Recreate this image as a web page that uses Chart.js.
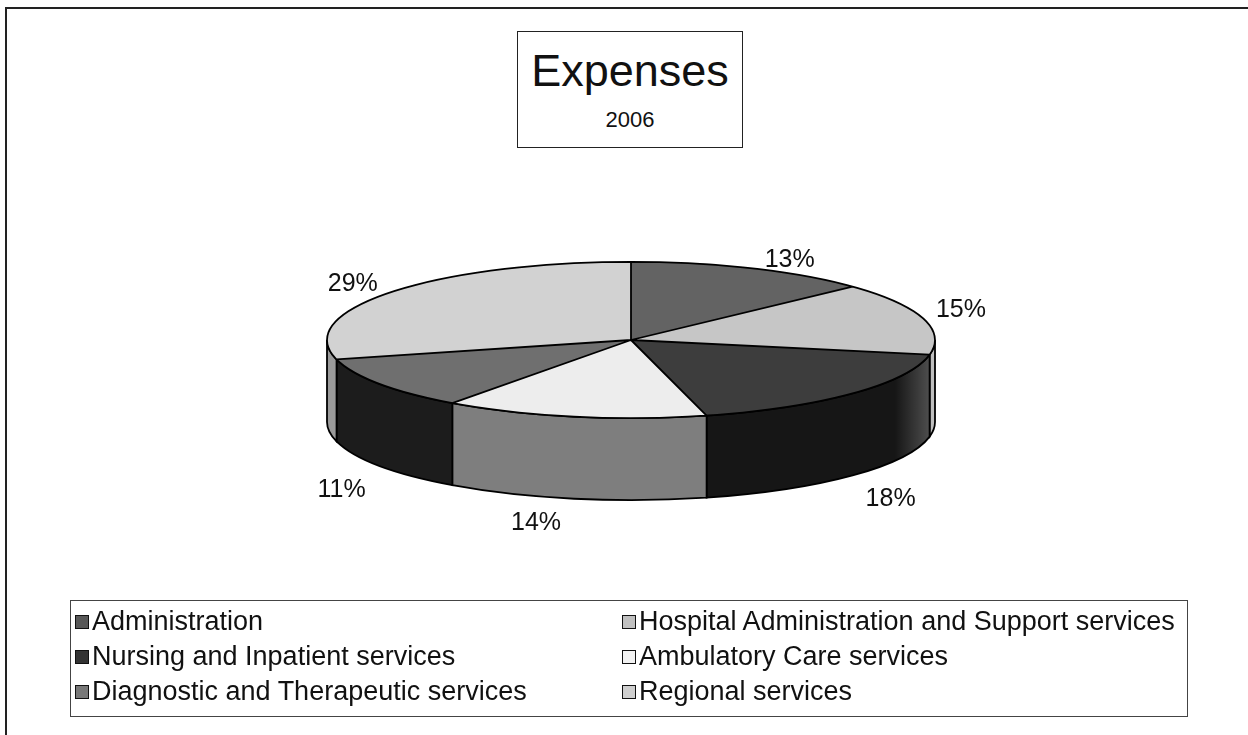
<!DOCTYPE html>
<html>
<head>
<meta charset="utf-8">
<title>Expenses 2006</title>
<script src="https://cdn.jsdelivr.net/npm/chart.js@4.4.1/dist/chart.umd.min.js"></script>
<style>
    html, body { margin: 0; padding: 0; background: #fff; }
    body {
        width: 1248px; height: 735px; position: relative; overflow: hidden;
        font-family: "Liberation Sans", Arial, sans-serif; color: #111;
    }
    #marco {
        position: absolute; left: 5px; top: 7px; width: 1300px; height: 800px;
        border-left: 2px solid #222; border-top: 2px solid #222;
    }
    #grafico { position: absolute; left: 0; top: 0; }
    #titulo {
        position: absolute; left: 517px; top: 31px; width: 224px; height: 115px;
        border: 1.5px solid #222; background: #fff; text-align: center;
    }
    #titulo .principal {
        position: absolute; left: 0; right: 0; top: 16px;
        font-size: 45px; line-height: 45px;
    }
    #titulo .anio {
        position: absolute; left: 0; right: 0; top: 77px;
        font-size: 22px; line-height: 22px;
    }
    #leyenda {
        position: absolute; left: 70px; top: 600px; width: 1112px; height: 112px;
        border: 1.5px solid #444; padding: 3px 0 0 4px;
        display: grid; grid-template-columns: 547px auto; grid-auto-rows: 35px;
    }
    .item { display: flex; align-items: center; font-size: 27px; white-space: nowrap; }
    .cuadro {
        width: 14px; height: 14px; border: 1px solid #111; margin-right: 3px;
        box-sizing: border-box; flex: none;
    }
</style>
</head>
<body>
<div id="marco"></div>
<canvas id="grafico" width="1248" height="735"></canvas>
<div id="titulo">
    <div class="principal">Expenses</div>
    <div class="anio">2006</div>
</div>
<div id="leyenda"></div>

<script>
// -------------------------------
// Datos
// -------------------------------
const categorias = [
    "Administration",
    "Hospital Administration and Support services",
    "Nursing and Inpatient services",
    "Ambulatory Care services",
    "Diagnostic and Therapeutic services",
    "Regional services"
];
const porcentajes = [13, 15, 18, 14, 11, 29];

// Colores: cara superior, lateral y cuadro de la leyenda
const coloresCara    = ["#636363", "#c6c6c6", "#3d3d3d", "#ededed", "#6f6f6f", "#d2d2d2"];
const coloresLateral = ["#3a3a3a", "#a8a8a8", "#161616", "#7e7e7e", "#1c1c1c", "#9a9a9a"];
const coloresLeyenda = ["#585858", "#c0c0c0", "#333333", "#f2f2f2", "#787878", "#cfcfcf"];

const INCLINACION = 0.257;  // aplastamiento vertical de la tarta
const GROSOR = 82;          // altura del canto

// -------------------------------
// Plugin tarta 3D
// -------------------------------
const tarta3D = {
    id: "tarta3D",
    beforeDatasetsDraw(chart) {
        const { ctx } = chart;
        const arcos = chart.getDatasetMeta(0).data;

        // Cantos: solo la mitad delantera (0..PI en ángulos de canvas)
        ctx.save();
        arcos.forEach((arco, i) => {
            const a1 = Math.max(arco.startAngle, 0);
            const a2 = Math.min(arco.endAngle, Math.PI);
            if (a2 <= a1) return;
            const r = arco.outerRadius;
            const ry = r * INCLINACION;
            ctx.beginPath();
            ctx.ellipse(arco.x, arco.y, r, ry, 0, a1, a2);
            ctx.ellipse(arco.x, arco.y + GROSOR, r, ry, 0, a2, a1, true);
            ctx.closePath();
            ctx.fillStyle = coloresLateral[i];
            ctx.fill();

            // brillo suave hacia el borde derecho
            const brillo = ctx.createLinearGradient(arco.x + r - 40, 0, arco.x + r, 0);
            brillo.addColorStop(0, "rgba(255,255,255,0)");
            brillo.addColorStop(1, "rgba(255,255,255,0.28)");
            ctx.fillStyle = brillo;
            ctx.fill();

            ctx.lineWidth = 1.8;
            ctx.strokeStyle = "#000";
            ctx.stroke();
        });
        ctx.restore();

        // La cara superior la dibuja Chart.js, aplastada en vertical
        const y = arcos[0].y;
        ctx.save();
        ctx.translate(0, y);
        ctx.scale(1, INCLINACION);
        ctx.translate(0, -y);
    },
    afterDatasetsDraw(chart) {
        const { ctx } = chart;
        ctx.restore();

        const arcos = chart.getDatasetMeta(0).data;
        const { x, y, outerRadius: r } = arcos[0];
        const ry = r * INCLINACION;

        // Bordes de la cara superior
        ctx.save();
        ctx.lineWidth = 1.8;
        ctx.strokeStyle = "#000";
        ctx.beginPath();
        ctx.ellipse(x, y, r, ry, 0, 0, Math.PI * 2);
        arcos.forEach(arco => {
            ctx.moveTo(x, y);
            ctx.lineTo(x + r * Math.cos(arco.startAngle), y + ry * Math.sin(arco.startAngle));
        });
        ctx.stroke();

        // Etiquetas de porcentaje
        ctx.fillStyle = "#111";
        ctx.font = "25px 'Liberation Sans', Arial, sans-serif";
        ctx.textAlign = "center";
        ctx.textBaseline = "middle";
        arcos.forEach((arco, i) => {
            const medio = (arco.startAngle + arco.endAngle) / 2;
            const c = Math.cos(medio);
            const s = Math.sin(medio);
            const lx = x + r * c + 38 * Math.sign(c);
            const ly = y + ry * s + (s < 0 ? -8 : GROSOR + 24);
            ctx.fillText(porcentajes[i] + "%", lx, ly);
        });
        ctx.restore();
    }
};

// -------------------------------
// Gráfico
// -------------------------------
const grafico = new Chart(document.getElementById("grafico"), {
    type: "pie",
    data: {
        labels: categorias,
        datasets: [{
            data: porcentajes,
            backgroundColor: coloresCara,
            borderWidth: 0,
            radius: 304
        }]
    },
    options: {
        responsive: false,
        animation: false,
        events: [],
        layout: { padding: { left: 14, right: 0, top: 10, bottom: 65 } },
        plugins: {
            legend: { display: false },
            tooltip: { enabled: false }
        }
    },
    plugins: [tarta3D]
});

// -------------------------------
// Leyenda en HTML (dos columnas)
// -------------------------------
const leyenda = document.getElementById("leyenda");
grafico.data.labels.forEach((nombre, i) => {
    const item = document.createElement("div");
    item.className = "item";
    item.innerHTML = `<span class="cuadro" style="background:${coloresLeyenda[i]}"></span>${nombre}`;
    leyenda.appendChild(item);
});
</script>
</body>
</html>
